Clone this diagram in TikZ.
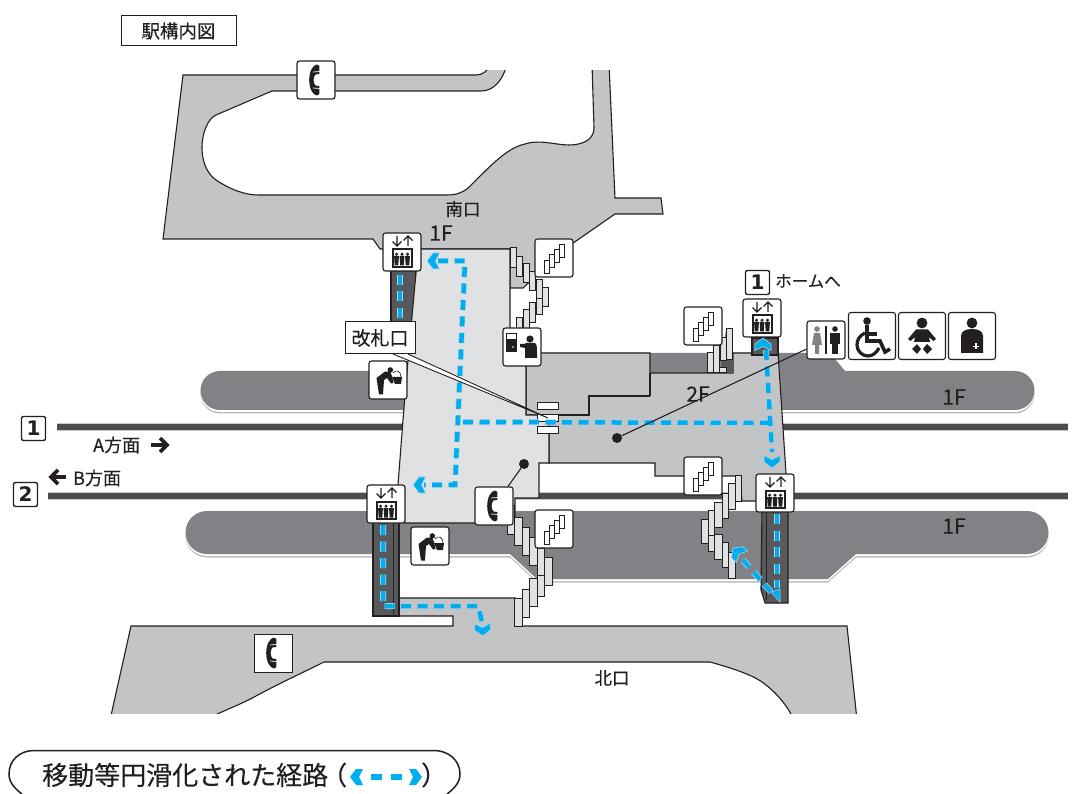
\documentclass[tikz,border=0pt]{standalone}
\usepackage{fontspec}
\setmainfont{Noto Sans CJK JP}[FakeBold=0.25]
\newfontfamily\numfont{DejaVu Sans}
\definecolor{plaza}{HTML}{C3C4C6}
\definecolor{conc}{HTML}{E0E1E2}
\definecolor{plat}{HTML}{808285}
\definecolor{shaft}{HTML}{58595B}
\definecolor{trk}{HTML}{4D4D4F}
\definecolor{ink}{HTML}{231F20}
\definecolor{cb}{HTML}{00AEEF}
\definecolor{halo}{HTML}{A9D3E8}
\tikzset{
 iconbox/.style={draw=ink,fill=white,rounded corners=2.5,line width=1.1,minimum size=38,inner sep=0},
 bigbox/.style={iconbox,minimum size=47},
 numbox/.style={draw=ink,fill=white,rounded corners=2,line width=1.4,minimum size=24,inner sep=0,font=\numfont\bfseries\fontsize{20}{20}\selectfont,text=ink},
 lab/.style={text=ink,inner sep=0,font=\fontsize{17.5}{18}\selectfont},
 floorlab/.style={text=ink,inner sep=0,font=\fontsize{21}{21}\selectfont},
 area/.style={draw=ink,line width=1.1,line join=miter},
 stp/.style={draw=ink,fill=conc,line width=1},
 route/.style={draw=cb,line width=4.5,dash pattern=on 10 off 6.5},
 routeh/.style={draw=halo,line width=6,dash pattern=on 10 off 6.5},
 stick/.style={draw=ink,line width=1.1},
}
\newcommand{\rr}[4]{\path[stp] (#1,#3) rectangle (#2,#4);}
\newcommand{\chev}[2]{\begin{scope}[shift={(#1)},rotate=#2]\fill[cb,draw=halo,line width=.6] (0,0)--(6,-8)--(12.5,-8)--(8.5,0)--(12.5,8)--(6,8)--cycle;\end{scope}}
\newcommand{\elev}[2]{\node[iconbox] (#1) at (#2) {};
 \begin{scope}[shift={(#2)},ink]
 \draw[line width=1.2] (-5,-16)--(-5,-6) (-9.5,-10.5)--(-5,-6)--(-.5,-10.5);
 \draw[line width=1.2] (6,-6)--(6,-16) (1.5,-11.5)--(6,-16)--(10.5,-11.5);
 \draw[line width=2,fill=white] (-9.5,-2.5) rectangle (9.5,15);
 \foreach \q in {-5.5,0,5.5}{\fill (\q,2.2) circle (1.7); \fill (\q-2.4,4)--(\q+2.4,4)--(\q+1.8,13.5)--(\q-1.8,13.5)--cycle;}
 \end{scope}}
\newcommand{\stairs}[2]{\node[iconbox] (#1) at (#2) {};
 \begin{scope}[shift={(#2)}]
 \foreach \a/\b in {-10/2,-5/-4,0/-9,5/-14}{\draw[ink,fill=white,line width=.9] (\a,\b) rectangle ++(5,13);}
 \end{scope}}
\newcommand{\hset}{\fill[ink] (1,-15.5) .. controls (-3,-15) and (-6.8,-9) .. (-6.8,0) .. controls (-6.8,9) and (-3,15) .. (1,15.5) -- (3.4,14) -- (3.4,6) -- (-.5,5.5) .. controls (-3,3) and (-3,-3) .. (-.5,-5.5) -- (3.4,-6) -- (3.4,-14) -- cycle;
 \draw[white,line width=.7] (-3,-8)--(4,-8.5) (-3,8)--(4,8.5);}
\newcommand{\phone}[2]{\node[iconbox] (#1) at (#2) {};
 \begin{scope}[shift={(#2)}]\hset\end{scope}}
\newcommand{\fountain}[2]{\node[iconbox] (#1) at (#2) {};
 \begin{scope}[shift={(#2)}]
 \fill[ink] (2.3,-10) circle (2.8);
 \fill[ink] (-11.5,-2)--(-3,-8.5)--(2,-8)--(4,-4)--(5.5,3)--(3,3.5)--(-1,-2)--(-4,0)--(-5,14.5)--(-9,14.5)--cycle;
 \fill[ink] (4,-3)--(14,-3)--(13,4)--(7,4)--cycle;
 \draw[ink,line width=.6] (5,-7) .. controls (8,-11) and (13,-9) .. (13,-3);
 \end{scope}}
\begin{document}
\begin{tikzpicture}[x=1pt,y=-1pt,line cap=butt]
\useasboundingbox (0,0) rectangle (1072,794);
\fill[white] (0,0) rectangle (1072,794);
% platforms
\foreach \c/\s in {plat!55/3.5,white/2,plat/0}{
 \fill[\c,yshift=-\s] (220,371)--(520,371)--(520,353)--(830,353)--(845,371)--(1015,371) arc[start angle=-90,end angle=90,radius=19.5] --(220,410) arc[start angle=90,end angle=270,radius=19.5]--cycle;
 \fill[\c,yshift=-\s] (207,511)--(1027,511) arc[start angle=-90,end angle=90,radius=21.5]--(856,554)--(828,579)--(537,579)--(510,554)--(207,554) arc[start angle=90,end angle=270,radius=21.5]--cycle;
}
% tracks
\draw[plat!45,line width=8] (57,427)--(1068,427) (48,496)--(1068,496);
\draw[trk,line width=5.5] (57,427)--(1068,427) (48,496)--(1068,496);
% south plaza
\path[area,fill=plaza] (183,75)--(476,75) .. controls (482,75) and (487,72) .. (491,64) -- (507,64) .. controls (503,80) and (494,91) .. (481,91) -- (272,91) -- (216,115) .. controls (207,119) and (202,135) .. (202,147) .. controls (202,165) and (209,175) .. (216,180) .. controls (231,190) and (246,195) .. (258,195) -- (447,195) .. controls (456,195) and (462,193) .. (468,188) .. controls (485,172) and (505,148) .. (525,144) .. controls (540,139) and (555,145) .. (569,145) .. controls (582,145) and (594,140) .. (594,128) -- (592,64) -- (609,64) -- (615,198) -- (661,198) -- (663,214) -- (615,214) -- (566,248) -- (523,288) -- (510,288) -- (510,249) -- (380,249) -- (373,239) -- (163,239) -- cycle;
\fill[white] (100,50) rectangle (700,70);
% north plaza
\path[area,fill=plaza] (131,626)--(453,626)--(453,616)--(396,616)--(396,598)--(515,598)--(515,626)--(847,626)--(857,720)--(794,720) .. controls (787,705) and (776,692) .. (762,682) .. controls (752,675) and (735,669) .. (710,662)--(324,662) .. controls (300,674) and (278,684) .. (256,696) .. controls (240,705) and (222,711) .. (205,720)--(110,720)--cycle;
\fill[white] (90,714) rectangle (880,740);
% 2F floor
\path[area,fill=plaza] (526,353)--(650,353)--(650,373)--(733,373)--(733,353)--(778,353)--(786,473)--(790,501)--(742,501)--(740,476)--(655,476)--(655,463)--(549,463)--(549,415)--(526,415)--cycle;
\draw[area] (650,396)--(589,396)--(589,415)--(549,415);
\draw[area] (650,373)--(650,396);
% shafts
\path[area,fill=shaft] (391,270) rectangle (416,325);
\path[area,fill=shaft] (373,520) rectangle (399,616);
\draw[ink,line width=.8] (393,520)--(393,614);
\path[area,fill=shaft] (752,338) rectangle (778,355);
\path[area,fill=shaft] (762,510)--(788,510)--(788,603)--(765,603)--(761,590)--cycle;
\draw[ink,line width=.8] (766,510)--(766,600);
% concourse
\path[area,fill=conc] (416,249)--(510,249)--(510,340)--(526,340)--(526,415)--(549,415)--(549,463)--(539,463)--(539,498)--(515,498)--(515,523)--(405,523)--(398,485)--(403,420)--(408,360)--(416,273)--cycle;
% gate
\foreach \y in {403,415,427}{\draw[ink,fill=white,line width=1] (537,\y) rectangle (558,\y+6.5);}
% stairs
\rr{510}{516}{248}{268}\rr{516}{522}{257}{277}\rr{523}{529}{264}{283}\rr{529}{535}{272}{291}\rr{536}{542}{280}{300}\rr{542}{548}{288}{307}\rr{536}{542}{299}{315}\rr{529}{535}{303}{323}\rr{523}{529}{310}{330}\rr{516}{522}{318}{330}
\rr{507}{514}{505}{534}\rr{514}{522}{517}{545}\rr{522}{529}{527}{555}\rr{529}{537}{537}{565}\rr{537}{544}{548}{575}\rr{544}{552}{557}{585}\rr{537}{544}{575}{596}\rr{529}{537}{578}{606}\rr{522}{529}{589}{617}\rr{514}{522}{598}{626}
\rr{735}{741}{476}{501}\rr{728}{735}{484}{509}\rr{722}{728}{493}{518}\rr{714}{722}{502}{527}\rr{708}{714}{510}{535}\rr{701}{708}{519}{543}\rr{708}{714}{535}{551}\rr{714}{722}{534}{559}\rr{722}{728}{542}{567}\rr{728}{735}{552}{578}
\fill[shaft] (720,373)--(733,373)--(733,353)--(726,330)--cycle;
\rr{726}{732}{329}{360}\rr{720}{726}{338}{361}\rr{713}{719}{346}{373}\rr{707}{713}{353}{373}\rr{719}{726}{368}{373}
% routes
\coordinate (a1) at (438,261);\coordinate (a2) at (465,261);\coordinate (a3) at (457,440);\coordinate (a4) at (455,485);\coordinate (a5) at (424,485);
\coordinate (b1) at (463,422);\coordinate (b2) at (768,423);
\coordinate (c1) at (766,350);\coordinate (c2) at (772,452);
\coordinate (d1) at (400,275);\coordinate (d2) at (400,322);
\coordinate (e1) at (383,525);\coordinate (e2) at (383,606);\coordinate (e3) at (478,606);\coordinate (e4) at (482,622);
\coordinate (f1) at (777,514);\coordinate (f2) at (777,588);
\coordinate (g1) at (771,592);\coordinate (g2) at (743,560);
\foreach \st in {routeh,route}{
 \draw[\st] (a1)--(a2)--(a3)--(a4)--(a5);
 \draw[\st] (b1)--(b2);
 \draw[\st] (c1)--(c2);
 \draw[\st] (d1)--(d2);
 \draw[\st] (e1)--(e2)--(e3)--(e4);
 \draw[\st] (f1)--(f2);
 \draw[\st] (g1)--(g2);
}
\chev{427,261}{0}
\chev{413,485}{0}
\chev{763,338}{-90}
\chev{772,468}{90}
\chev{483,636}{93}
\chev{733,548}{-45}
\fill[cb,draw=halo,line width=.5] (780,602)--(771,592)--(780,589)--cycle;
% leaders
\coordinate (gateend) at (548,418);
\coordinate (lk1) at (393,354);\coordinate (lk2) at (408,354);
\path[fill=white] (lk1)--(gateend)--(lk2)--cycle;
\draw[ink,line width=.9] (lk1)--(gateend)--(lk2);
\node[draw=ink,fill=white,line width=1,minimum width=70,minimum height=32,inner sep=0,font=\fontsize{19}{19}\selectfont,text=ink] (gatebox) at (380,338) {改札口};
\node[circle,fill=ink,minimum size=10,inner sep=0] (dot1) at (617,438) {};
\node[circle,fill=ink,minimum size=10,inner sep=0] (dot2) at (524,464) {};
% icons
\elev{ev1}{402,252}
\elev{ev2}{762,318}
\elev{ev3}{386,504}
\elev{ev4}{775,493}
\stairs{st1}{554,258}
\stairs{st2}{703,326}
\stairs{st3}{703,476}
\stairs{st4}{554,529}
\phone{ph1}{316,80}
\phone{ph2}{494,506}
\node[draw=ink,fill=white,line width=1,minimum size=38,inner sep=0] (ph3) at (273,653) {};
\begin{scope}[shift={(273,653)}]\hset\end{scope}
\fountain{fo1}{388,380}
\fountain{fo2}{430,546}
\draw[stick] (dot2)--(ph2);
% staff
\node[iconbox] (staff) at (522,347) {};
\begin{scope}[shift={(522,347)}]
 \draw[ink,fill=white,line width=1] (-16,-13) rectangle (-6,5);
 \fill[ink] (-16,-8) rectangle (-6,5);
 \fill[white] (-13.5,-11.5) rectangle (-8.5,-9.5);
 \fill[white] (-9,0) circle (.8);
 \fill[ink] (8,-8) circle (3.6);
 \fill[ink] (2,-3)--(4,-4) --(13,-4) .. controls (15,-3) and (15,0) .. (15,11) -- (3,11)--(3,1)--(-2,0)--(-2,-3)--cycle;
\end{scope}
% toilet
\node[iconbox] (wc) at (826,340) {};
\draw[stick] (dot1)--(wc);
\begin{scope}[shift={(826,340)}]
 \fill[plat] (-9,-11) circle (2.8);
 \fill[plat] (-12,-7)--(-6,-7)--(-4,5)--(-7,5)--(-7,14)--(-11,14)--(-11,5)--(-14,5)--cycle;
 \fill[ink] (-.8,-14) rectangle (.8,14);
 \fill[ink] (9,-11) circle (2.8);
 \fill[ink] (4,-7) rectangle (14,4);
 \fill[ink] (6,4) rectangle (12,14);
\end{scope}
% wheelchair
\node[bigbox] (wh) at (872,336) {};
\begin{scope}[shift={(872,336)}]
 \fill[ink] (-5,-15) circle (3.8);
 \draw[ink,line width=3.6] (-5,-11)--(-5,5)--(8,5)--(13,16)--(18,13);
 \draw[ink,line width=3.4] (-5,-2)--(5,-2);
 \draw[ink,line width=3.2] (-7,-3) .. controls (-13,0) and (-15,4) .. (-15,9) .. controls (-15,15) and (-10,20) .. (-4,20) .. controls (1,20) and (5,16) .. (7,12);
\end{scope}
% baby
\node[bigbox] (bb) at (922,336) {};
\begin{scope}[shift={(922,336)}]
 \fill[ink] (0,-13) circle (5.4);
 \fill[ink] (-6,-6.5)--(6,-6.5)--(14,3)--(11.5,5)--(7,1)--(8,6)--(-8,6)--(-7,1)--(-11.5,5)--(-14,3)--cycle;
 \fill[ink] (-5,8)--(-1,13)--(-5,18)--(-10,13)--cycle;
 \fill[ink] (5,8)--(10,13)--(5,18)--(1,13)--cycle;
\end{scope}
% first aid
\node[bigbox] (fa) at (972,336) {};
\begin{scope}[shift={(972,336)}]
 \fill[ink] (0,-13) circle (5.4);
 \fill[ink] (-11,17)--(-11,0) .. controls (-11,-5) and (-6,-7) .. (0,-7) .. controls (6,-7) and (11,-5) .. (11,0)--(11,17)--cycle;
 \draw[white,line width=1.7] (1,10.5)--(7,10.5) (4,7.5)--(4,13.5);
\end{scope}
% number boxes
\node[numbox] (n1a) at (757.5,282.5) {1};
\node[numbox] (n1b) at (33.5,428.5) {1};
\node[numbox] (n2) at (25.5,494.5) {2};
% labels
\node[draw=ink,fill=white,line width=1,minimum width=115,minimum height=30,inner sep=0,font=\fontsize{18.5}{19}\selectfont,text=ink] (title) at (178.5,31) {駅構内図};
\node[lab,anchor=west,font=\fontsize{16.5}{17}\selectfont] (home) at (775,281) {ホームへ};
\node[lab] (l1) at (463,209) {南口};
\node[floorlab] (l2) at (441,233) {1F};
\node[floorlab] (l3) at (698,394) {2F};
\node[floorlab] (l4) at (954,397) {1F};
\node[floorlab] (l5) at (954,526) {1F};
\node[lab] (l6) at (612,678) {北口};
\node[lab,font=\fontsize{18}{18}\selectfont,anchor=west] (l7) at (93,445) {A方面};
\node[lab,font=\fontsize{18}{18}\selectfont,anchor=west] (l8) at (73,478) {B方面};
\draw[ink,line width=3.2] (151,445)--(166,445);\draw[ink,line width=3.6] (160,438)--(167,445)--(160,452);
\draw[ink,line width=3.2] (66,477)--(52,477);\draw[ink,line width=3.6] (58,470)--(51,477)--(58,484);
% legend
\draw[ink,line width=1.5] (22,794) .. controls (14,788) and (9,782) .. (9,774) .. controls (9,760) and (20,750.5) .. (34,750.5) -- (434,750.5) .. controls (448,750.5) and (460,760) .. (460,774) .. controls (460,782) and (455,788) .. (447,794);
\node[lab,anchor=west,font=\fontsize{26}{27}\selectfont] (leg) at (42,775) {移動等円滑化された経路};
\node[lab,anchor=west,font=\fontsize{26}{27}\selectfont] (legl) at (321,775) {（};
\node[lab,anchor=west,font=\fontsize{26}{27}\selectfont] (legr) at (421,775) {）};
\fill[cb] (350,777)--(356,769)--(363,769)--(359,777)--(363,785)--(356,785)--cycle;
\fill[cb] (371,774) rectangle (382,780);
\fill[cb] (391,774) rectangle (402,780);
\fill[cb] (422,777)--(416,769)--(409,769)--(413,777)--(409,785)--(416,785)--cycle;
\end{tikzpicture}
\end{document}
